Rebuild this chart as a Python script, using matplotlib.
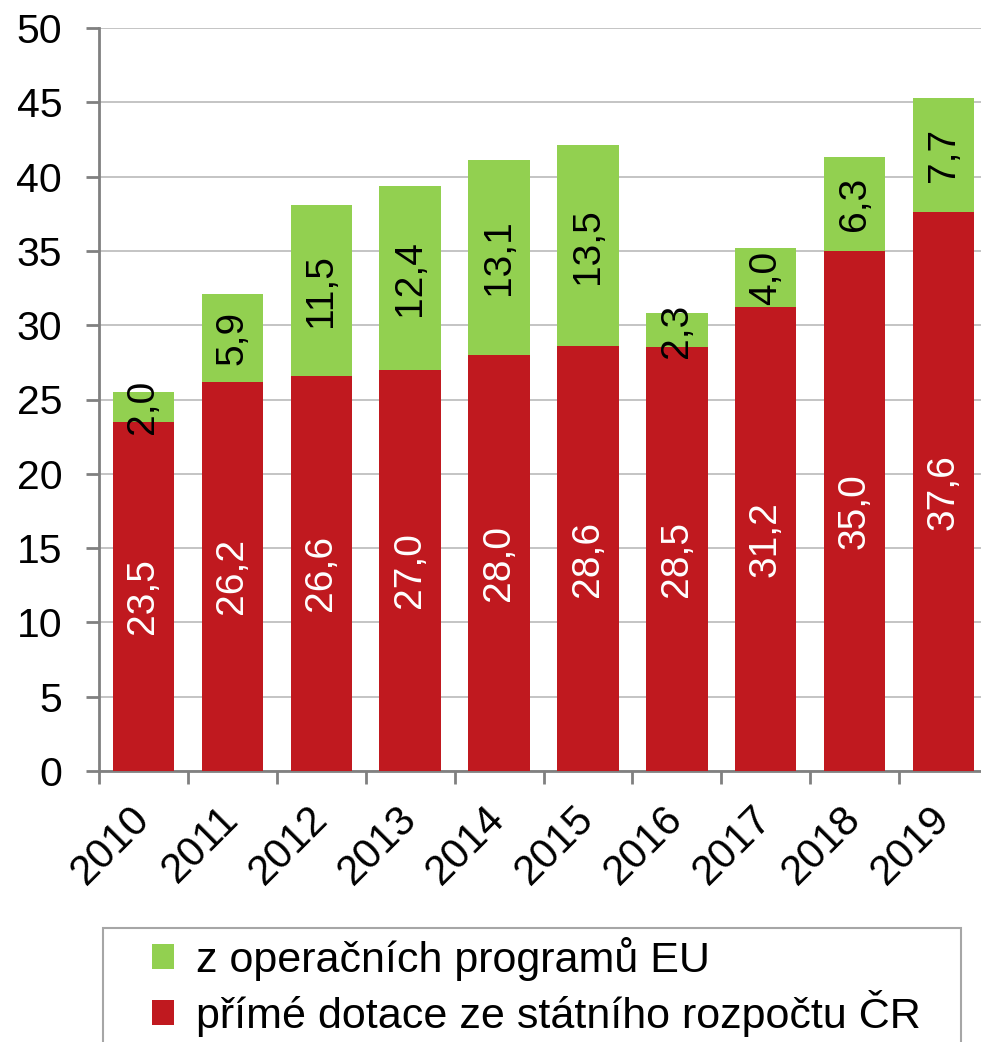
import matplotlib
matplotlib.use("Agg")
import matplotlib.pyplot as plt
from matplotlib.patches import Rectangle
import numpy as np

plt.rcParams['font.family'] = ['Liberation Sans', 'DejaVu Sans']

# data
years = ['2010', '2011', '2012', '2013', '2014', '2015', '2016', '2017', '2018', '2019']
statni = [23.5, 26.2, 26.6, 27.0, 28.0, 28.6, 28.5, 31.2, 35.0, 37.6]
eu = [2.0, 5.9, 11.5, 12.4, 13.1, 13.5, 2.3, 4.0, 6.3, 7.7]

red = '#C0191F'
green = '#92D050'
gray = '#808080'

W, H = 981, 1042
fig = plt.figure(figsize=(W / 100, H / 100), dpi=100)
ax = fig.add_axes([99 / W, 1 - 771 / H, 889 / W, (771 - 28) / H])

x = np.arange(len(years))
b1 = ax.bar(x, statni, width=0.69, color=red, label='přímé dotace ze státního rozpočtu ČR', zorder=3)
b2 = ax.bar(x, eu, width=0.69, bottom=statni, color=green, label='z operačních programů EU', zorder=3)

fmt = lambda v: f'{v:.1f}'.replace('.', ',')
ax.bar_label(b1, labels=[fmt(v) for v in statni], label_type='center',
             rotation=90, color='white', fontsize=28)
ax.bar_label(b2, labels=[fmt(v) for v in eu], label_type='center',
             rotation=90, color='black', fontsize=28)

# axes
ax.set_ylim(0, 50)
ax.set_yticks(np.arange(0, 51, 5))
ax.set_xlim(-0.5, len(years) - 0.5)
ax.grid(axis='y', color='#BFBFBF', linewidth=1.3, zorder=0)
ax.set_axisbelow(True)
for s in ['top', 'right']:
    ax.spines[s].set_visible(False)
for s in ['left', 'bottom']:
    ax.spines[s].set_color(gray)
    ax.spines[s].set_linewidth(2)
ax.tick_params(axis='y', length=9.5, width=2, color=gray, labelsize=29.5, pad=17)
ax.set_xticks(x)
ax.set_xticklabels(years, rotation=45, ha='right', va='center', rotation_mode='anchor', fontsize=30)
ax.tick_params(axis='x', which='major', length=0, pad=30)
ax.set_xticks(np.arange(-0.5, len(years), 1), minor=True)
ax.tick_params(axis='x', which='minor', length=9, width=2, color=gray)

# legend box (cut off at the bottom like the original)
fig.patches.append(Rectangle((103 / W, -0.05), (961 - 103) / W, 0.05 + 1 - 928 / H,
                             transform=fig.transFigure, facecolor='none',
                             edgecolor='#A6A6A6', linewidth=1.5))
h, l = ax.get_legend_handles_labels()
fig.legend(h[::-1], l[::-1], loc='upper left',
           bbox_to_anchor=(152 / W, 1 - 937 / H),
           fontsize=31, frameon=False,
           handlelength=0.52, handleheight=0.52, handletextpad=0.5,
           labelspacing=0.2, borderpad=0, borderaxespad=0)

fig.savefig('out.png', dpi=100)
